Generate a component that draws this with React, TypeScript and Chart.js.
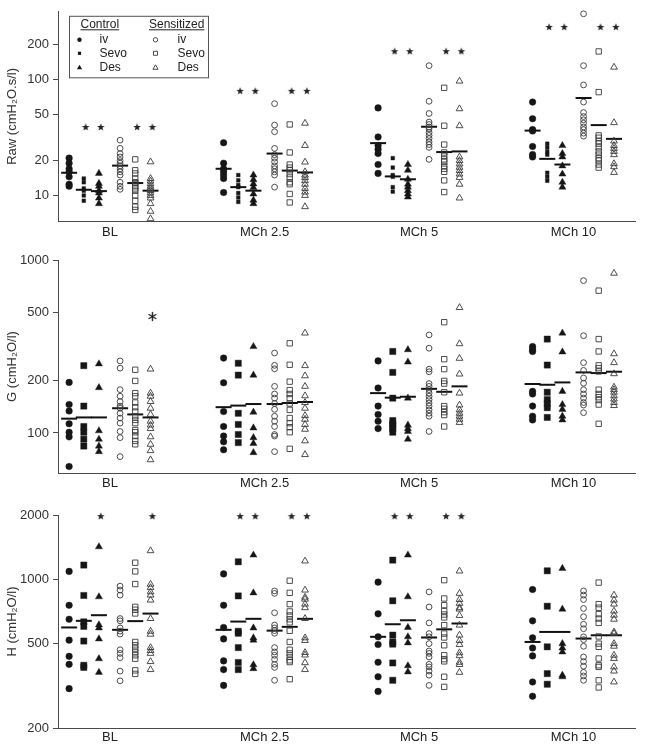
import React, { useEffect, useRef } from 'react';
import { Chart, registerables } from 'chart.js';

Chart.register(...registerables);

const FONT = "'Liberation Sans', Arial, Helvetica, sans-serif";
Chart.defaults.font.family = FONT;

// ---------- categories / series ----------
const categories = ['BL', 'MCh 2.5', 'MCh 5', 'MCh 10'];
const seriesNames = ['Control iv', 'Control Sevo', 'Control Des', 'Sensitized iv', 'Sensitized Sevo', 'Sensitized Des'];
const seriesOffsets = [-0.265, -0.17, -0.072, 0.065, 0.163, 0.262];

// ---------- Raw (cmH2O.s/l) ----------
const rawCtrlIv = [
  [21, 19, 17, 16, 14.5, 12.5, 12],
  [28.5, 19, 17, 16, 15, 14, 10.6],
  [57, 32, 27, 25, 23, 18.5, 15.5],
  [64, 46, 37, 36, 26.5, 22.5, 21.5],
];
const rawCtrlSevo = [
  [14, 13, 11.5, 11, 10, 9],
  [15, 13.5, 12.3, 11.8, 10.5, 9.6, 8.8],
  [21, 17.4, 15, 14.5, 11.8, 10.8],
  [28, 26, 24, 22.5, 15.7, 14.5, 13.4],
];
const rawCtrlDes = [
  [15.5, 12.7, 12, 11, 10.5, 9.5, 8.5],
  [15, 13.7, 12.6, 11.7, 10.3, 9.1, 8.5],
  [18.5, 16.5, 13.8, 12.5, 11.8, 11, 10.3, 9.7],
  [27, 23, 21.5, 18, 15.3, 13, 11.8],
];
const rawSensIv = [
  [30, 25.5, 23, 21.5, 20, 19, 18, 17, 16, 15, 13, 12, 11.3],
  [62, 40.5, 35.5, 25.5, 22.5, 21, 19.5, 18, 17, 16, 15, 11.8],
  [132, 65, 51, 43, 41, 39, 37.5, 35, 33, 31, 29, 27.5, 26, 20.5],
  [370, 132, 90, 64, 52, 48, 45, 42, 39, 37, 34.5, 32.5],
];
const rawSensSevo = [
  [20.5, 16.5, 15.5, 14, 13, 12.8, 12, 11.5, 11, 10, 9, 8, 7.5],
  [41, 23.5, 18.5, 17.4, 16.5, 15.3, 14.3, 13, 12.5, 10.3, 8.7],
  [85, 40, 27.5, 23.5, 22, 20.5, 19.5, 18, 17, 16, 13.5, 10.7],
  [175, 78, 33, 31.5, 29.5, 28, 26, 24, 22.5, 21, 20, 18.5, 17.4],
];
const rawSensDes = [
  [19.5, 14, 13.3, 12.6, 12, 11.5, 11, 10.5, 10, 9.5, 8.5, 7.3, 6.3],
  [42, 27, 19.4, 16, 15, 14.3, 13.4, 12.5, 11.5, 10.7, 10, 8],
  [97, 56, 40, 21.5, 20, 18.7, 17.5, 16.4, 15.3, 14.3, 12.5, 9.5],
  [128, 42.5, 29.5, 27, 25.5, 24, 22.5, 18.8, 17.7, 15.8],
];
const rawMedians = [
  [15.7, 17.0, 28.3, 36.3],
  [11.2, 11.8, 14.6, 20.7],
  [10.9, 11.0, 13.8, 18.5],
  [18.1, 23.0, 39.2, 69.4],
  [12.8, 16.4, 23.7, 40.5],
  [11.0, 15.8, 24.0, 30.8],
];
const rawTicks = [10, 20, 50, 100, 200];
const rawStarLevels = [39, 80, 176, 285];
const rawStarSeries = [[1, 2, 4, 5], [1, 2, 4, 5], [1, 2, 4, 5], [1, 2, 4, 5]];

// ---------- G (cmH2O/l) ----------
const gCtrlIv = [
  [196, 146, 134, 113, 101, 95, 64],
  [271, 195, 133, 109, 96, 89, 80],
  [261, 182, 143, 128, 117, 106],
  [316, 305, 296, 174, 168, 143, 125, 119],
];
const gCtrlSevo = [
  [245, 143, 109, 101, 92, 84],
  [253, 216, 130, 112, 98, 88],
  [296, 224, 159, 118, 113, 110, 106, 101],
  [349, 247, 172, 156, 148, 140, 123],
];
const gCtrlDes = [
  [251, 183, 103, 92, 84, 78],
  [316, 216, 132, 107, 94, 87, 77],
  [303, 257, 159, 111, 106, 102, 92],
  [378, 294, 174, 146, 137, 125, 119],
];
const gSensIv = [
  [261, 237, 178, 163, 152, 143, 139, 130, 122, 114, 102, 94, 73],
  [290, 246, 235, 186, 168, 159, 148, 137, 125, 117, 109, 98, 96, 78],
  [369, 309, 234, 226, 193, 186, 178, 170, 163, 156, 149, 143, 136, 130, 125, 102],
  [760, 365, 255, 230, 208, 194, 178, 168, 159, 150, 145, 131],
];
const gSensSevo = [
  [232, 200, 170, 163, 150, 141, 133, 125, 119, 114, 104, 101, 96, 90, 86],
  [330, 248, 198, 177, 168, 159, 148, 136, 122, 114, 108, 101, 81],
  [437, 267, 234, 200, 193, 172, 143, 138, 132, 127, 109],
  [665, 349, 296, 246, 237, 227, 178, 168, 161, 155, 146, 113],
];
const gSensDes = [
  [234, 170, 163, 152, 139, 128, 117, 111, 106, 95, 86, 79, 70],
  [378, 245, 214, 186, 164, 150, 139, 126, 120, 112, 105, 90, 75],
  [531, 328, 270, 219, 170, 145, 136, 130, 125, 120, 115],
  [838, 287, 255, 220, 184, 178, 172, 164, 157, 150, 144],
];
const gMedians = [
  [121, 141, 170, 192],
  [123, 144, 160, 190],
  [123, 147, 162, 196],
  [139, 147, 180, 224],
  [128, 149, 173, 222],
  [123, 151, 186, 226],
];
const gTicks = [100, 200, 500, 1000];
const gStarLevels = [471, 471, 471, 471];
const gStarSeries = [[5], [], [], []];

// ---------- H (cmH2O/l) ----------
const hCtrlIv = [
  [1087, 754, 648, 517, 434, 398, 306],
  [1058, 754, 593, 524, 413, 376, 317],
  [968, 687, 536, 493, 407, 348, 297],
  [894, 637, 530, 475, 436, 329, 282],
];
const hCtrlSevo = [
  [1164, 838, 630, 600, 512, 394, 385],
  [1206, 834, 569, 557, 477, 406, 376],
  [1228, 791, 546, 507, 495, 404, 335],
  [1094, 746, 481, 360, 321],
];
const hCtrlDes = [
  [1419, 826, 610, 590, 524, 423, 365],
  [1297, 862, 590, 530, 517, 396, 380],
  [1297, 826, 593, 536, 502, 392, 367],
  [1122, 723, 498, 475, 455, 354, 348],
];
const hSensIv = [
  [927, 888, 841, 653, 637, 590, 570, 552, 466, 448, 428, 370, 333],
  [880, 857, 695, 609, 590, 573, 557, 477, 455, 439, 420, 398, 385, 335],
  [871, 740, 623, 555, 536, 498, 460, 448, 431, 398, 387, 370, 354, 317],
  [880, 841, 802, 728, 666, 614, 585, 536, 520, 484, 431, 410, 390, 365, 351, 335],
];
const hSensSevo = [
  [1194, 1087, 948, 741, 718, 690, 507, 489, 472, 455, 439, 423, 373, 359],
  [983, 862, 763, 705, 675, 648, 627, 572, 507, 466, 448, 431, 416, 408, 339],
  [989, 811, 755, 708, 682, 661, 608, 555, 532, 489, 439, 421, 411, 348, 312],
  [963, 763, 734, 685, 653, 623, 538, 498, 481, 424, 394, 387, 335, 310],
];
const hSensDes = [
  [1359, 946, 912, 871, 841, 797, 653, 569, 551, 477, 462, 448, 410, 376],
  [1216, 888, 822, 805, 763, 734, 653, 530, 515, 452, 440, 405, 376],
  [1091, 857, 802, 769, 734, 723, 675, 608, 546, 515, 493, 451, 437, 407, 397, 365],
  [841, 797, 763, 708, 677, 648, 565, 555, 498, 484, 439, 424, 387, 370, 329],
];
const hMedians = [
  [593, 578, 536, 507],
  [637, 632, 614, 565],
  [677, 651, 641, 565],
  [578, 573, 532, 526],
  [635, 597, 581, 545],
  [689, 651, 619, 545],
];
const hTicks = [200, 500, 1000, 2000];
const hStarLevels = [1977, 1977, 1977, 1977];
const hStarSeries = [[2, 5], [1, 2, 4, 5], [1, 2, 4, 5], []];

// ---------- styling ----------
const INK = '#161616';
const OPEN = '#3a3a3a';
const AXIS = '#4a4a4a';
const markers = [
  { style: 'circle', r: 3.3, filled: true },
  { style: 'rect', r: 4.4, filled: true },
  { style: 'triangle', r: 4.1, filled: true },
  { style: 'circle', r: 2.9, filled: false },
  { style: 'rect', r: 3.8, filled: false },
  { style: 'triangle', r: 3.9, filled: false },
];

function makeStar(): HTMLCanvasElement {
  const c = document.createElement('canvas');
  c.width = 10;
  c.height = 10;
  const ctx = c.getContext('2d')!;
  ctx.fillStyle = '#222';
  ctx.beginPath();
  for (let i = 0; i < 10; i++) {
    const a = -Math.PI / 2 + (i * Math.PI) / 5;
    const r = i % 2 === 0 ? 4 : 1.7;
    const x = 5 + Math.cos(a) * r;
    const y = 5.3 + Math.sin(a) * r;
    if (i === 0) ctx.moveTo(x, y);
    else ctx.lineTo(x, y);
  }
  ctx.closePath();
  ctx.fill();
  return c;
}

function makeAsterisk(): HTMLCanvasElement {
  const c = document.createElement('canvas');
  c.width = 11;
  c.height = 11;
  const ctx = c.getContext('2d')!;
  ctx.strokeStyle = '#222';
  ctx.lineWidth = 1.4;
  ctx.lineCap = 'round';
  for (let i = 0; i < 3; i++) {
    const a = Math.PI / 2 + (i * Math.PI) / 3;
    ctx.beginPath();
    ctx.moveTo(5.5 + Math.cos(a) * 4, 5.5 + Math.sin(a) * 4);
    ctx.lineTo(5.5 - Math.cos(a) * 4, 5.5 - Math.sin(a) * 4);
    ctx.stroke();
  }
  return c;
}

function drawMarker(ctx: CanvasRenderingContext2D, kind: string, x: number, y: number, r: number, filled: boolean) {
  ctx.beginPath();
  if (kind === 'circle') {
    ctx.arc(x, y, r, 0, Math.PI * 2);
  } else if (kind === 'rect') {
    ctx.rect(x - r, y - r, 2 * r, 2 * r);
  } else {
    ctx.moveTo(x, y - r);
    ctx.lineTo(x + r * 0.866, y + r * 0.5);
    ctx.lineTo(x - r * 0.866, y + r * 0.5);
    ctx.closePath();
  }
  if (filled) {
    ctx.fillStyle = INK;
    ctx.fill();
  } else {
    ctx.strokeStyle = OPEN;
    ctx.lineWidth = 0.9;
    ctx.stroke();
  }
}

const legendPlugin = {
  id: 'groupLegend',
  afterDraw(chart: any) {
    const ctx: CanvasRenderingContext2D = chart.ctx;
    const L = chart.chartArea.left + 11.5;
    const T = chart.chartArea.top + 4.5;
    ctx.save();
    ctx.strokeStyle = '#555';
    ctx.lineWidth = 1;
    ctx.strokeRect(L, T, 139, 61.5);
    ctx.fillStyle = '#222';
    ctx.font = `12px ${FONT}`;
    ctx.textBaseline = 'middle';
    ctx.textAlign = 'left';
    const hx1 = L + 11;
    const hx2 = L + 79.5;
    ctx.fillText('Control', hx1, T + 8);
    ctx.fillText('Sensitized', hx2, T + 8);
    ctx.fillRect(hx1, T + 13, ctx.measureText('Control').width, 1);
    ctx.fillRect(hx2, T + 13, ctx.measureText('Sensitized').width, 1);
    const rows = ['iv', 'Sevo', 'Des'];
    const rowY = [T + 23.5, T + 37, T + 51.5];
    rows.forEach((name, i) => {
      ctx.fillStyle = '#222';
      ctx.fillText(name, L + 30, rowY[i]);
      ctx.fillText(name, L + 108, rowY[i]);
      const mk = ['circle', 'rect', 'triangle'][i];
      drawMarker(ctx, mk, L + 10, rowY[i], mk === 'circle' ? 2.2 : mk === 'rect' ? 1.6 : 3, true);
      drawMarker(ctx, mk, L + 86, rowY[i], mk === 'circle' ? 2.2 : mk === 'rect' ? 2 : 3, false);
    });
    ctx.restore();
  },
};

type PanelCfg = {
  top: number;
  height: number;
  padTop: number;
  xHeight: number;
  labelPad: number;
  yMin: number;
  yMax: number;
  yTicks: number[];
  yTitle: string;
  values: number[][][];
  medians: number[][];
  starLevels: number[];
  starSeries: number[][];
  starKind: 'star' | 'asterisk';
  sevoR: number;
  legend: boolean;
};

const panels: PanelCfg[] = [
  {
    top: 0, height: 245, padTop: 8, xHeight: 24, labelPad: 4,
    yMin: 6.02, yMax: 385, yTicks: rawTicks, yTitle: 'Raw (cmH\u2082O.s/l)',
    values: [rawCtrlIv, rawCtrlSevo, rawCtrlDes, rawSensIv, rawSensSevo, rawSensDes],
    medians: rawMedians, starLevels: rawStarLevels, starSeries: rawStarSeries, starKind: 'star',
    sevoR: 2.6, legend: true,
  },
  {
    top: 245, height: 250, padTop: 15, xHeight: 22, labelPad: 3,
    yMin: 58.7, yMax: 1000, yTicks: gTicks, yTitle: 'G (cmH\u2082O/l)',
    values: [gCtrlIv, gCtrlSevo, gCtrlDes, gSensIv, gSensSevo, gSensDes],
    medians: gMedians, starLevels: gStarLevels, starSeries: gStarSeries, starKind: 'asterisk',
    sevoR: 4.4, legend: false,
  },
  {
    top: 495, height: 249, padTop: 20, xHeight: 16, labelPad: 2,
    yMin: 200, yMax: 2000, yTicks: hTicks, yTitle: 'H (cmH\u2082O/l)',
    values: [hCtrlIv, hCtrlSevo, hCtrlDes, hSensIv, hSensSevo, hSensDes],
    medians: hMedians, starLevels: hStarLevels, starSeries: hStarSeries, starKind: 'star',
    sevoR: 4.4, legend: false,
  },
];

function buildDatasets(cfg: PanelCfg) {
  const ds: any[] = [];
  cfg.values.forEach((perCat, s) => {
    const m = markers[s];
    ds.push({
      label: seriesNames[s],
      data: perCat.flatMap((vals, c) => vals.map((v) => ({ x: c + seriesOffsets[s], y: v }))),
      showLine: false,
      pointStyle: m.style,
      pointRadius: s === 1 ? cfg.sevoR : m.r,
      pointBackgroundColor: m.filled ? INK : 'rgba(0,0,0,0)',
      pointBorderColor: m.filled ? INK : OPEN,
      pointBorderWidth: m.filled ? 0.4 : 0.9,
      clip: false,
    });
  });
  cfg.medians.forEach((perCat, s) => {
    ds.push({
      label: seriesNames[s] + ' median',
      data: perCat.map((v, c) => ({ x: c + seriesOffsets[s], y: v })),
      showLine: false,
      pointStyle: 'line',
      pointRadius: 8,
      pointBorderColor: '#111',
      pointBorderWidth: 2,
      clip: false,
    });
  });
  const img = cfg.starKind === 'star' ? makeStar() : makeAsterisk();
  ds.push({
    label: 'significance',
    data: cfg.starSeries.flatMap((list, c) =>
      list.map((s) => ({ x: c + seriesOffsets[s] + 0.012, y: cfg.starLevels[c] }))
    ),
    showLine: false,
    pointStyle: img,
    pointRadius: 4,
    clip: false,
  });
  return ds;
}

function Panel({ cfg }: { cfg: PanelCfg }) {
  const ref = useRef<HTMLCanvasElement>(null);
  useEffect(() => {
    if (!ref.current) return;
    const chart = new Chart(ref.current, {
      type: 'scatter',
      data: { datasets: buildDatasets(cfg) },
      plugins: cfg.legend ? [legendPlugin] : [],
      options: {
        animation: false,
        responsive: false,
        events: [],
        layout: { padding: { left: 0, right: 5, top: cfg.padTop, bottom: 0 } },
        plugins: { legend: { display: false }, tooltip: { enabled: false } },
        scales: {
          x: {
            type: 'linear',
            min: -0.337,
            max: 3.398,
            afterBuildTicks: (s: any) => {
              s.ticks = categories.map((_, i) => ({ value: i }));
            },
            afterFit: (s: any) => {
              s.height = cfg.xHeight;
            },
            ticks: {
              autoSkip: false,
              maxRotation: 0,
              padding: cfg.labelPad,
              color: '#222',
              font: { size: 13, family: FONT },
              callback: (v: any) => categories[Math.round(Number(v))] ?? '',
            },
            grid: { display: true, drawOnChartArea: false, drawTicks: false, color: AXIS },
            border: { display: true, color: AXIS, width: 1 },
          },
          y: {
            type: 'logarithmic',
            min: cfg.yMin,
            max: cfg.yMax,
            afterBuildTicks: (s: any) => {
              s.ticks = cfg.yTicks.map((v) => ({ value: v }));
            },
            afterFit: (s: any) => {
              s.width = 58;
            },
            ticks: {
              autoSkip: false,
              padding: 4,
              color: '#333',
              font: { size: 13, family: FONT },
              callback: (v: any) => String(v),
            },
            grid: { display: true, drawOnChartArea: false, drawTicks: true, tickLength: 5, color: AXIS },
            border: { display: true, color: AXIS, width: 1 },
            title: {
              display: true,
              text: cfg.yTitle,
              color: '#333',
              font: { size: 13, family: FONT },
              padding: { top: 5, bottom: 0 },
            },
          },
        },
      } as any,
    });
    return () => chart.destroy();
  }, [cfg]);
  return (
    <canvas
      ref={ref}
      width={645}
      height={cfg.height}
      style={{ position: 'absolute', left: 0, top: cfg.top, width: 645, height: cfg.height, display: 'block' }}
    />
  );
}

export default function App() {
  return (
    <div style={{ position: 'absolute', left: 0, top: 0, width: 645, height: 744, background: '#fff' }}>
      {panels.map((p, i) => (
        <Panel key={i} cfg={p} />
      ))}
    </div>
  );
}
